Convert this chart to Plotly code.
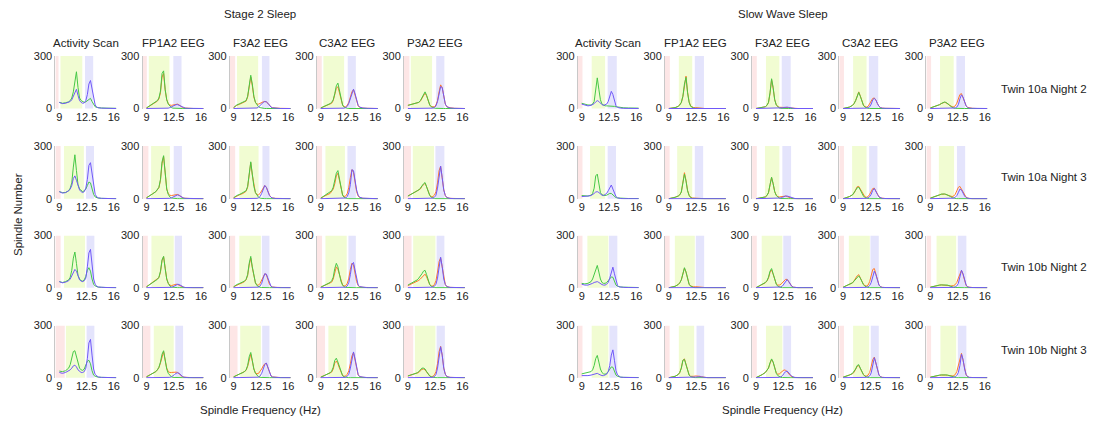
import plotly.graph_objects as go

FREQ = [9.0, 9.4, 9.8, 10.2, 10.4, 10.6, 10.8, 11.0, 11.2, 11.4, 11.6, 11.8, 12.0,
        12.2, 12.4, 12.6, 12.8, 13.0, 13.2, 13.4, 13.6, 13.8, 14.0, 14.4, 15.0, 16.3]

# ---------------- Stage 2 Sleep ----------------
S2_R1_ACT_G = [35,30,33,38,45,60,95,170,210,120,60,45,40,35,38,45,55,58,40,20,10,6,4,3,2,1]
S2_R1_ACT_B = [35,28,30,35,40,50,70,100,110,75,45,35,30,32,45,80,140,160,110,50,20,8,4,2,1,0]
S2_R1_FP1_G = [3,15,25,35,45,60,100,200,215,110,50,25,12,5,2,1,0,0,0,0,0,0,0,0,0,0]
S2_R1_FP1_O = [3,15,25,35,42,55,90,180,200,105,50,28,20,18,20,22,25,25,20,12,6,3,2,1,0,0]
S2_R1_FP1_B = [0,0,0,0,0,0,0,0,0,0,0,2,5,10,15,20,22,22,18,12,6,3,2,1,0,0]
S2_R1_F3_G = [5,20,28,35,38,45,70,130,190,140,70,35,20,10,5,2,1,0,0,0,0,0,0,0,0,0]
S2_R1_F3_O = [5,18,25,32,35,42,65,120,180,130,65,35,25,25,30,35,38,40,38,30,18,8,4,2,1,0]
S2_R1_F3_B = [0,0,0,0,0,0,0,0,0,0,0,0,3,8,18,28,35,40,38,30,18,8,4,2,0,0]
S2_R1_C3_G = [3,10,20,28,35,50,85,130,145,100,50,20,8,3,1,0,0,0,0,0,0,0,0,0,0,0]
S2_R1_C3_O = [3,10,18,25,30,45,75,115,125,90,45,20,10,10,18,35,65,95,108,80,40,15,6,2,1,0]
S2_R1_C3_B = [0,0,0,0,0,0,0,0,0,0,0,0,2,5,12,30,60,95,110,85,45,18,8,3,1,0]
S2_R1_P3_G = [18,22,25,30,35,45,60,80,95,75,40,20,10,5,2,1,0,0,0,0,0,0,0,0,0,0]
S2_R1_P3_O = [18,22,25,30,35,42,55,75,88,72,40,20,10,8,10,20,45,95,135,120,60,25,10,4,1,0]
S2_R1_P3_B = [0,0,0,0,0,0,0,0,0,0,0,0,0,2,5,15,40,85,125,120,60,25,10,3,1,0]
S2_R2_ACT_G = [40,35,35,45,60,90,180,250,160,80,55,45,40,45,55,75,95,90,55,25,10,5,3,2,1,0]
S2_R2_ACT_B = [40,32,35,45,55,75,115,130,105,70,50,40,35,40,60,110,190,205,140,60,25,10,5,2,1,0]
S2_R2_FP1_G = [5,15,28,40,50,65,110,210,245,130,55,25,10,4,2,1,0,0,0,0,0,0,0,0,0,0]
S2_R2_FP1_O = [5,15,28,40,50,62,105,200,240,125,55,28,20,18,20,22,25,24,20,12,6,3,2,1,0,0]
S2_R2_FP1_B = [0,0,0,0,0,0,0,0,0,0,0,0,2,5,10,15,20,22,18,12,6,3,2,1,0,0]
S2_R2_F3_G = [5,18,25,33,38,45,70,140,210,140,70,35,18,8,3,1,0,0,0,0,0,0,0,0,0,0]
S2_R2_F3_O = [5,16,23,30,35,42,65,130,205,135,70,35,22,22,30,45,65,75,65,40,20,8,4,2,1,0]
S2_R2_F3_B = [0,0,0,0,0,0,0,0,0,0,0,0,2,5,12,30,60,75,65,40,18,8,4,1,0,0]
S2_R2_C3_G = [3,15,25,35,45,65,100,145,160,110,50,20,8,3,1,0,0,0,0,0,0,0,0,0,0,0]
S2_R2_C3_O = [3,15,22,30,40,55,85,130,145,100,48,22,12,15,30,65,120,165,150,90,40,15,6,2,1,0]
S2_R2_C3_B = [0,0,0,0,0,0,0,0,0,0,0,0,0,4,12,35,80,165,160,100,50,20,8,3,1,0]
S2_R2_P3_G = [15,25,35,45,50,60,75,85,92,70,40,18,8,3,1,0,0,0,0,0,0,0,0,0,0,0]
S2_R2_P3_O = [15,25,35,42,48,55,70,80,88,68,40,20,12,12,20,40,90,160,185,120,50,18,6,2,1,0]
S2_R2_P3_B = [0,0,0,0,0,0,0,0,0,0,0,0,0,3,8,20,60,140,185,120,50,18,6,2,0,0]
S2_R3_ACT_G = [35,30,35,45,60,100,170,205,140,70,50,40,38,45,65,100,115,95,50,20,10,5,3,2,1,0]
S2_R3_ACT_B = [35,28,32,40,50,70,90,105,95,65,45,38,35,40,55,120,200,220,130,50,20,8,4,2,1,0]
S2_R3_FP1_G = [5,18,30,40,48,60,95,160,180,110,50,25,10,4,2,1,0,0,0,0,0,0,0,0,0,0]
S2_R3_FP1_O = [5,18,30,40,48,58,90,155,178,108,50,25,15,12,15,18,20,18,14,8,4,2,1,0,0,0]
S2_R3_FP1_B = [0,0,0,0,0,0,0,0,0,0,0,0,0,2,5,10,15,20,18,12,6,3,1,0,0,0]
S2_R3_F3_G = [5,18,25,32,38,48,75,140,180,120,60,28,12,5,2,1,0,0,0,0,0,0,0,0,0,0]
S2_R3_F3_O = [5,15,22,30,35,45,70,130,170,115,60,28,15,15,25,45,70,80,75,45,20,8,4,2,1,0]
S2_R3_F3_B = [0,0,0,0,0,0,0,0,0,0,0,0,0,3,10,25,55,80,78,50,22,8,3,1,0,0]
S2_R3_C3_G = [3,12,22,30,40,60,110,140,120,75,35,15,5,2,1,0,0,0,0,0,0,0,0,0,0,0]
S2_R3_C3_O = [3,10,18,25,32,50,95,120,105,70,35,15,10,12,25,55,105,140,130,80,35,12,5,2,1,0]
S2_R3_C3_B = [0,0,0,0,0,0,0,0,0,0,0,0,0,3,10,30,75,135,145,100,45,15,6,2,0,0]
S2_R3_P3_G = [15,25,35,45,55,65,80,95,100,75,40,18,8,3,1,0,0,0,0,0,0,0,0,0,0,0]
S2_R3_P3_O = [12,20,28,35,42,50,60,72,78,62,35,18,10,10,18,40,90,150,172,115,50,18,6,2,1,0]
S2_R3_P3_B = [0,0,0,0,0,0,0,0,0,0,0,0,0,3,8,20,55,130,175,120,50,18,6,2,0,0]
S2_R4_ACT_G = [38,35,40,55,75,110,150,155,120,75,55,45,42,50,70,95,100,80,40,15,8,4,3,2,1,0]
S2_R4_ACT_B = [30,25,30,38,45,55,68,72,62,45,35,30,30,35,55,110,200,220,130,50,18,8,4,2,1,0]
S2_R4_FP1_G = [5,15,25,35,45,60,90,135,155,100,50,25,12,5,2,1,0,0,0,0,0,0,0,0,0,0]
S2_R4_FP1_O = [5,15,25,35,45,58,85,128,150,100,55,35,30,30,32,33,32,30,22,12,6,3,2,1,0,0]
S2_R4_FP1_B = [0,0,0,0,0,0,0,0,0,0,0,0,2,5,10,18,25,28,25,15,8,3,1,0,0,0]
S2_R4_F3_G = [5,15,22,30,35,45,70,120,145,100,50,25,12,5,2,1,0,0,0,0,0,0,0,0,0,0]
S2_R4_F3_O = [5,15,22,30,35,42,65,110,135,95,50,28,22,25,35,50,68,80,82,55,25,10,4,2,1,0]
S2_R4_F3_B = [0,0,0,0,0,0,0,0,0,0,0,0,0,3,10,25,50,75,85,60,28,10,4,1,0,0]
S2_R4_C3_G = [3,10,20,28,38,60,100,112,90,60,30,12,5,2,1,0,0,0,0,0,0,0,0,0,0,0]
S2_R4_C3_O = [3,10,18,25,32,50,85,95,80,55,28,12,8,10,20,40,80,125,145,100,45,15,6,2,1,0]
S2_R4_C3_B = [0,0,0,0,0,0,0,0,0,0,0,0,0,2,8,20,55,110,148,110,50,18,6,2,0,0]
S2_R4_P3_G = [10,15,20,28,35,45,55,55,50,35,20,10,5,2,1,0,0,0,0,0,0,0,0,0,0,0]
S2_R4_P3_O = [10,15,20,25,30,40,48,50,45,33,20,10,6,8,15,35,80,150,180,130,55,20,6,2,1,0]
S2_R4_P3_B = [0,0,0,0,0,0,0,0,0,0,0,0,0,2,6,18,55,130,178,130,55,20,6,2,0,0]

# ---------------- Slow Wave Sleep ----------------
SWS_R1_ACT_G = [30,25,20,20,25,40,100,175,110,50,25,18,15,15,15,15,15,15,12,10,8,6,5,4,3,2]
SWS_R1_ACT_B = [25,18,15,18,22,28,38,45,40,30,22,18,20,25,40,70,98,80,40,15,6,3,2,1,0,0]
SWS_R1_FP1_G = [0,2,5,12,20,35,70,140,178,90,35,12,5,2,1,0,0,0,0,0,0,0,0,0,0,0]
SWS_R1_FP1_O = [0,2,5,12,20,33,68,140,185,95,38,14,7,5,5,5,4,3,2,1,0,0,0,0,0,0]
SWS_R1_FP1_B = [0,0,0,0,0,0,0,0,0,0,0,0,0,0,2,3,4,4,3,2,1,0,0,0,0,0]
SWS_R1_F3_G = [0,2,5,10,18,35,90,170,120,50,20,8,3,1,0,0,0,0,0,0,0,0,0,0,0,0]
SWS_R1_F3_O = [0,2,5,10,18,33,85,165,115,50,22,10,7,7,8,8,8,7,5,3,2,1,0,0,0,0]
SWS_R1_F3_B = [0,0,0,0,0,0,0,0,0,0,0,0,0,2,4,6,8,8,6,4,2,1,0,0,0,0]
SWS_R1_C3_G = [0,3,8,18,28,45,75,92,70,40,18,8,3,1,0,0,0,0,0,0,0,0,0,0,0,0]
SWS_R1_C3_O = [0,3,8,18,28,45,75,95,72,42,20,10,8,12,25,45,58,60,48,28,12,5,2,1,0,0]
SWS_R1_C3_B = [0,0,0,0,0,0,0,0,0,0,0,0,2,5,10,25,50,58,48,28,12,5,2,1,0,0]
SWS_R1_P3_G = [3,8,15,22,28,33,37,35,30,22,12,6,3,1,0,0,0,0,0,0,0,0,0,0,0,0]
SWS_R1_P3_O = [3,8,15,22,28,32,35,33,28,22,14,10,10,15,30,60,80,85,65,35,15,6,3,1,0,0]
SWS_R1_P3_B = [0,0,0,0,0,0,0,0,0,0,0,0,0,3,8,22,55,78,65,35,14,5,2,1,0,0]
SWS_R2_ACT_G = [18,15,15,20,30,60,130,140,80,35,22,18,18,20,25,30,30,22,12,6,4,3,2,2,1,1]
SWS_R2_ACT_B = [12,12,15,18,22,30,38,40,35,25,20,18,22,30,45,65,78,55,28,12,5,2,1,0,0,0]
SWS_R2_FP1_G = [0,3,8,15,22,38,85,140,100,45,18,6,2,1,0,0,0,0,0,0,0,0,0,0,0,0]
SWS_R2_FP1_O = [0,3,8,15,22,38,85,148,105,48,20,8,4,3,3,3,3,2,1,0,0,0,0,0,0,0]
SWS_R2_FP1_B = [0,0,0,0,0,0,0,0,0,0,0,0,0,0,0,1,2,2,1,0,0,0,0,0,0,0]
SWS_R2_F3_G = [0,2,5,10,18,35,80,122,85,40,18,8,3,1,0,0,0,0,0,0,0,0,0,0,0,0]
SWS_R2_F3_O = [0,2,5,10,18,33,78,120,85,40,20,12,10,12,15,16,15,12,8,4,2,1,0,0,0,0]
SWS_R2_F3_B = [0,0,0,0,0,0,0,0,0,0,0,0,2,4,8,12,15,15,12,8,4,2,1,0,0,0]
SWS_R2_C3_G = [0,5,12,22,32,48,62,65,50,32,15,6,2,1,0,0,0,0,0,0,0,0,0,0,0,0]
SWS_R2_C3_O = [0,5,12,22,32,50,68,70,55,35,18,10,8,12,25,45,58,60,45,25,10,4,2,1,0,0]
SWS_R2_C3_B = [0,0,0,0,0,0,0,0,0,0,0,0,2,5,12,25,48,58,45,25,10,4,2,1,0,0]
SWS_R2_P3_G = [3,8,15,22,26,28,27,25,22,18,12,6,3,1,0,0,0,0,0,0,0,0,0,0,0,0]
SWS_R2_P3_O = [3,8,15,22,25,27,26,24,22,18,14,12,15,25,45,65,70,55,35,18,8,3,1,0,0,0]
SWS_R2_P3_B = [0,0,0,0,0,0,0,0,0,0,0,0,3,8,18,35,55,50,32,15,6,2,1,0,0,0]
SWS_R3_ACT_G = [25,22,25,35,50,75,110,128,90,50,30,25,25,30,40,55,62,60,35,15,8,5,4,3,2,1]
SWS_R3_ACT_B = [20,15,15,20,25,30,33,35,30,22,18,15,15,20,30,55,95,118,80,35,12,5,3,2,1,0]
SWS_R3_FP1_G = [0,3,8,18,28,45,85,115,90,45,20,8,3,1,0,0,0,0,0,0,0,0,0,0,0,0]
SWS_R3_FP1_O = [0,3,8,18,28,45,82,112,90,45,20,10,6,5,6,6,6,5,3,2,1,0,0,0,0,0]
SWS_R3_FP1_B = [0,0,0,0,0,0,0,0,0,0,0,0,0,0,0,1,2,3,2,1,0,0,0,0,0,0]
SWS_R3_F3_G = [0,10,20,30,40,60,95,110,80,45,20,8,3,1,0,0,0,0,0,0,0,0,0,0,0,0]
SWS_R3_F3_O = [0,10,18,28,38,55,88,102,78,45,22,15,15,20,30,42,48,48,35,18,8,3,1,0,0,0]
SWS_R3_F3_B = [0,0,0,0,0,0,0,0,0,0,0,0,2,4,10,22,38,47,35,18,7,3,1,0,0,0]
SWS_R3_C3_G = [3,10,18,28,38,50,62,68,55,35,18,8,3,1,0,0,0,0,0,0,0,0,0,0,0,0]
SWS_R3_C3_O = [3,10,18,28,40,55,68,75,60,38,20,12,10,15,35,70,105,110,80,40,15,6,2,1,0,0]
SWS_R3_C3_B = [0,0,0,0,0,0,0,0,0,0,0,0,2,5,12,30,70,95,75,38,15,5,2,1,0,0]
SWS_R3_P3_G = [3,8,12,15,16,16,17,16,15,12,8,5,2,1,0,0,0,0,0,0,0,0,0,0,0,0]
SWS_R3_P3_O = [3,8,12,15,16,16,16,15,14,12,10,10,12,18,30,55,85,100,75,35,12,4,2,1,0,0]
SWS_R3_P3_B = [0,0,0,0,0,0,0,0,0,0,0,0,2,5,10,25,60,100,80,40,15,5,2,1,0,0]
SWS_R4_ACT_G = [22,25,28,35,45,70,110,128,90,50,30,22,20,25,35,50,62,60,35,15,8,4,3,2,1,1]
SWS_R4_ACT_B = [12,10,12,15,18,22,25,25,20,15,12,12,15,20,35,70,130,160,100,40,15,6,3,2,1,0]
SWS_R4_FP1_G = [0,3,8,18,30,55,100,105,70,35,15,6,2,1,0,0,0,0,0,0,0,0,0,0,0,0]
SWS_R4_FP1_O = [0,3,8,18,30,55,100,108,72,35,16,8,6,8,10,10,10,8,5,3,1,0,0,0,0,0]
SWS_R4_FP1_B = [0,0,0,0,0,0,0,0,0,0,0,0,0,0,2,4,6,7,5,3,1,0,0,0,0,0]
SWS_R4_F3_G = [0,8,18,30,40,55,85,108,90,50,25,12,5,2,1,0,0,0,0,0,0,0,0,0,0,0]
SWS_R4_F3_O = [0,8,18,30,40,55,82,105,88,50,28,20,22,30,40,45,42,35,22,10,4,2,1,0,0,0]
SWS_R4_F3_B = [0,0,0,0,0,0,0,0,0,0,0,0,2,5,12,25,35,38,30,18,8,3,1,0,0,0]
SWS_R4_C3_G = [3,8,15,25,35,50,70,75,55,35,18,8,3,1,0,0,0,0,0,0,0,0,0,0,0,0]
SWS_R4_C3_O = [3,8,15,22,32,45,65,70,52,33,18,10,10,15,30,65,105,118,85,40,15,6,2,1,0,0]
SWS_R4_C3_B = [0,0,0,0,0,0,0,0,0,0,0,0,2,5,10,28,65,115,85,40,15,5,2,1,0,0]
SWS_R4_P3_G = [3,8,12,15,16,17,17,16,15,12,8,5,2,1,0,0,0,0,0,0,0,0,0,0,0,0]
SWS_R4_P3_O = [3,8,12,14,15,16,16,15,14,12,10,10,12,18,35,70,115,140,100,45,15,5,2,1,0,0]
SWS_R4_P3_B = [0,0,0,0,0,0,0,0,0,0,0,0,2,5,12,30,70,135,105,50,18,6,2,1,0,0]

# Frequency bands per panel: (pink end, green start, green end, blue start, blue end)
S2_BANDS_R1 = [(8.9, 9.15, 11.95, 12.3, 13.35), (9.05, 9.3, 11.95, 12.45, 13.5), (9.2, 9.43, 12.15, 12.63, 13.6), (9.13, 9.34, 12.0, 12.46, 13.5), (9.2, 9.37, 12.1, 12.63, 13.68)]
S2_BANDS_R2 = [(9.17, 9.6, 12.15, 12.42, 13.45), (9.25, 9.6, 12.0, 12.5, 13.55), (9.2, 9.73, 12.2, 12.7, 13.6), (9.17, 9.6, 12.1, 12.42, 13.5), (9.4, 9.63, 12.35, 12.53, 13.68)]
S2_BANDS_R3 = [(9.17, 9.6, 12.3, 12.5, 13.5), (9.17, 9.64, 12.5, 12.63, 13.56), (9.2, 9.73, 12.5, 12.63, 13.6), (9.17, 9.6, 12.33, 12.55, 13.5), (9.47, 9.68, 12.53, 12.68, 13.68)]
S2_BANDS_R4 = [(9.7, 9.85, 12.3, 12.5, 13.5), (9.5, 9.94, 12.5, 12.7, 13.7), (9.5, 9.85, 12.5, 12.67, 13.6), (9.55, 9.98, 12.33, 12.63, 13.53), (9.68, 9.9, 12.53, 12.68, 13.74)]
SWS_BANDS_R1 = [(9.1, 10.28, 12.0, 12.33, 13.5), (9.13, 10.28, 12.0, 12.33, 13.5), (9.1, 10.28, 12.0, 12.3, 13.45), (9.1, 10.28, 12.0, 12.3, 13.5), (9.1, 10.25, 12.0, 12.35, 13.45)]
SWS_BANDS_R2 = [(9.1, 10.07, 12.0, 12.33, 13.4), (9.1, 10.07, 12.0, 12.33, 13.4), (9.1, 10.15, 12.0, 12.38, 13.5), (9.1, 10.15, 12.0, 12.33, 13.4), (9.1, 10.1, 12.05, 12.42, 13.47)]
SWS_BANDS_R3 = [(9.1, 9.73, 12.42, 12.5, 13.57), (9.1, 9.77, 12.33, 12.46, 13.53), (9.1, 9.73, 12.38, 12.5, 13.5), (9.1, 9.73, 12.42, 12.5, 13.57), (9.1, 9.8, 12.32, 12.53, 13.63)]
SWS_BANDS_R4 = [(9.1, 10.28, 12.42, 12.55, 13.57), (9.1, 10.28, 12.25, 12.55, 13.53), (9.1, 10.28, 12.38, 12.5, 13.5), (9.1, 10.28, 12.33, 12.55, 13.57), (9.1, 10.3, 12.32, 12.53, 13.63)]

GROUPS = ["S2", "SWS"]
GROUP_TITLES = ["Stage 2 Sleep", "Slow Wave Sleep"]
COLS = ["ACT", "FP1", "F3", "C3", "P3"]
COL_TITLES = ["Activity Scan", "FP1A2 EEG", "F3A2 EEG", "C3A2 EEG", "P3A2 EEG"]
ROW_LABELS = ["Twin 10a Night 2", "Twin 10a Night 3", "Twin 10b Night 2", "Twin 10b Night 3"]
X_TICKS = [9, 12.5, 16]
X_TICK_TEXT = ["9", "12.5", "16"]
Y_TICKS = [0, 300]
X_RANGE = [8.5, 16.35]
Y_RANGE = [-4, 300]

GREEN = "#46c846"
PURPLE = "#7058f8"
ORANGE = "#ff7a28"
PINK_BAND = "#fde6e6"
GREEN_BAND = "#f1fcd2"
BLUE_BAND = "#e4e4fc"
TEXT = "#222222"
FONT = "Liberation Sans, Arial, sans-serif"

W, H = 1096, 421
GROUP_LEFT = [55.4, 577.8]
COL_STRIDE = 87.15
PANEL_W = 61.2
ROW_TOP = [56, 146, 235.5, 325.5]
ROW_BOT = [109.2, 199.4, 288.4, 378.4]

data = globals()
fig = go.Figure()
layout_axes = {}
shapes = []
annotations = []

for g, G in enumerate(GROUPS):
    for r in range(4):
        bands = data[f"{G}_BANDS_R{r+1}"]
        for c, C in enumerate(COLS):
            n = g * 20 + r * 5 + c + 1
            xa = "x" if n == 1 else f"x{n}"
            ya = "y" if n == 1 else f"y{n}"
            key = f"{G}_R{r+1}_{C}"
            if C == "ACT":
                curves = [(data[key + "_G"], GREEN), (data[key + "_B"], PURPLE)]
            else:
                curves = [(data[key + "_O"], ORANGE), (data[key + "_G"], GREEN), (data[key + "_B"], PURPLE)]
            for vals, col in curves:
                fig.add_trace(go.Scatter(x=FREQ, y=vals, mode="lines", xaxis=xa, yaxis=ya,
                                         line=dict(color=col, width=1), showlegend=False,
                                         hoverinfo="skip"))
            left = GROUP_LEFT[g] + c * COL_STRIDE
            xd = [left / W, (left + PANEL_W) / W]
            yd = [1 - ROW_BOT[r] / H, 1 - ROW_TOP[r] / H]
            layout_axes["xaxis" if n == 1 else f"xaxis{n}"] = dict(
                domain=xd, range=X_RANGE, anchor=ya, tickvals=X_TICKS, ticktext=X_TICK_TEXT,
                showgrid=False, zeroline=False, showline=False, ticks="", automargin=False,
                tickfont=dict(size=11, color=TEXT, family=FONT), fixedrange=True)
            layout_axes["yaxis" if n == 1 else f"yaxis{n}"] = dict(
                domain=yd, range=Y_RANGE, anchor=xa, tickvals=Y_TICKS, automargin=False,
                showgrid=False, zeroline=False, showline=True, linecolor="#c8c8c8", linewidth=1,
                ticks="", tickfont=dict(size=11, color=TEXT, family=FONT), fixedrange=True)
            pe, glo, ghi, blo, bhi = bands[c]
            for x0, x1, fc in [(X_RANGE[0], pe, PINK_BAND), (glo, ghi, GREEN_BAND), (blo, bhi, BLUE_BAND)]:
                shapes.append(dict(type="rect", xref=xa, yref=ya, x0=x0, x1=x1, y0=0, y1=300,
                                   fillcolor=fc, line=dict(width=0), layer="below"))
            if r == 0:
                annotations.append(dict(text=COL_TITLES[c], x=(left + PANEL_W / 2) / W, y=1 - 42.5 / H,
                                        xref="paper", yref="paper", showarrow=False,
                                        xanchor="center", yanchor="middle",
                                        font=dict(size=11.5, color=TEXT, family=FONT)))

for g in range(2):
    cx = (GROUP_LEFT[g] + 2 * COL_STRIDE + PANEL_W / 2) / W
    annotations.append(dict(text=GROUP_TITLES[g], x=cx, y=1 - 14 / H, xref="paper", yref="paper",
                            showarrow=False, xanchor="center", yanchor="middle",
                            font=dict(size=11.5, color=TEXT, family=FONT)))
    annotations.append(dict(text="Spindle Frequency (Hz)", x=cx, y=1 - 410 / H, xref="paper", yref="paper",
                            showarrow=False, xanchor="center", yanchor="middle",
                            font=dict(size=11.5, color=TEXT, family=FONT)))

ROW_LABEL_Y = [88.5, 177.5, 267, 350]
for r in range(4):
    annotations.append(dict(text=ROW_LABELS[r], x=999 / W, y=1 - ROW_LABEL_Y[r] / H, xref="paper", yref="paper",
                            showarrow=False, xanchor="left", yanchor="middle",
                            font=dict(size=11.5, color=TEXT, family=FONT)))

annotations.append(dict(text="Spindle Number", x=18 / W, y=1 - 215 / H, xref="paper", yref="paper",
                        showarrow=False, xanchor="center", yanchor="middle", textangle=-90,
                        font=dict(size=11.5, color=TEXT, family=FONT)))

fig.update_layout(width=W, height=H, margin=dict(l=0, r=0, t=0, b=0, pad=0, autoexpand=False),
                  paper_bgcolor="white", plot_bgcolor="rgba(0,0,0,0)",
                  shapes=shapes, annotations=annotations, showlegend=False,
                  font=dict(family=FONT, color=TEXT), **layout_axes)

fig.write_html("out.html", config={"displayModeBar": False, "staticPlot": True},
               post_script="document.body.style.margin='0';document.body.style.overflow='hidden';")
